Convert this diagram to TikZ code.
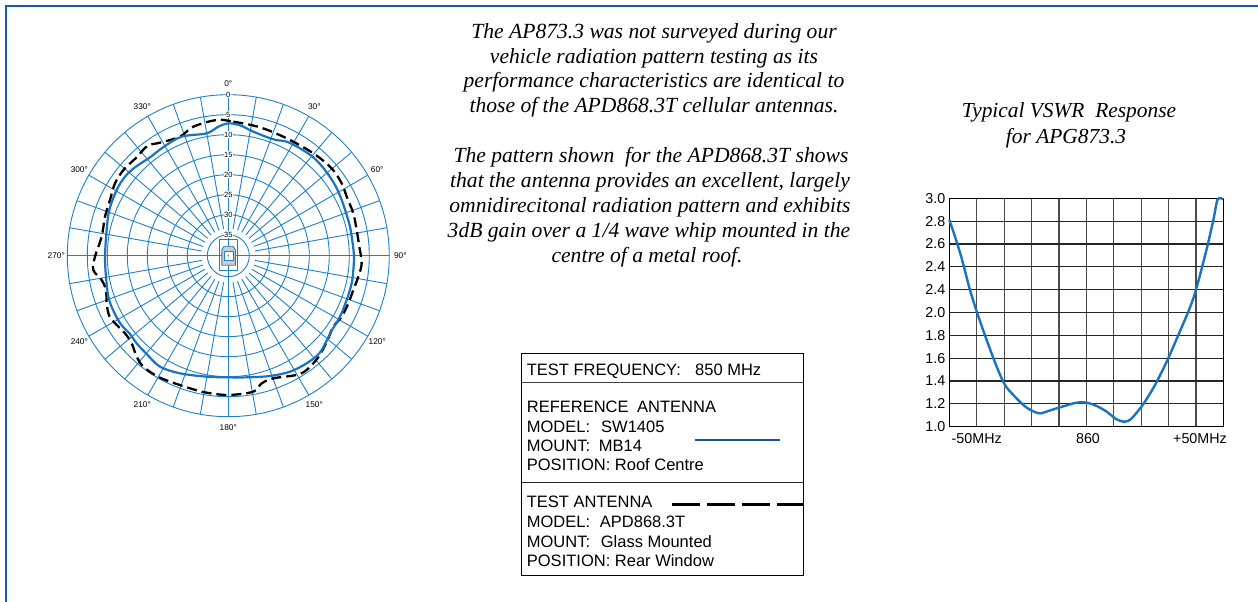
\documentclass[tikz,border=0pt]{standalone}
\usepackage{fontspec}
\setmainfont{Liberation Serif}
\setsansfont{Liberation Sans}
\definecolor{frameblue}{RGB}{22,92,172}
\definecolor{gridblue}{RGB}{30,130,200}
\definecolor{curveblue}{RGB}{25,115,190}
\definecolor{legblue}{RGB}{25,85,165}
\begin{document}
\begin{tikzpicture}[x=1pt,y=-1pt,
  pgrid/.style={gridblue, line width=0.9pt},
  plab/.style={font=\sffamily\fontsize{8.3}{9}\selectfont, inner sep=0.5pt},
  rlab/.style={font=\sffamily\fontsize{7.5}{8}\selectfont, fill=white, inner sep=0.6pt},
  vgrid/.style={black!70, line width=1.2pt},
  vlab/.style={font=\sffamily\fontsize{14.3}{16}\selectfont, inner sep=0pt},
  legtxt/.style={font=\sffamily\fontsize{16.5}{19}\selectfont, anchor=base west, inner sep=0pt},
  body/.style={font=\itshape\fontsize{21.6}{25}\selectfont, anchor=base, inner sep=0pt},
  head/.style={font=\itshape\fontsize{21.4}{25}\selectfont, anchor=base, inner sep=0pt},
  refcurve/.style={curveblue, line width=2.2pt, line join=round},
  testcurve/.style={black, line width=2.3pt, dash pattern=on 10pt off 5pt},
]
\useasboundingbox (0,0) rectangle (1258,602);
\fill[white] (0,0) rectangle (1258,602);
% frame
\draw[frameblue, line width=2.6pt] (6,602) -- (6,6) -- (1258,6);

% ---------- polar plot ----------
\begin{scope}[shift={(228.3,255.7)}]
  \foreach \k in {0,...,7}
    \draw[pgrid] (0,0) circle[radius={(161-20*\k)*1pt}];
  \foreach \a in {0,10,...,350}
    \draw[pgrid] (\a:27) -- (\a:161);
  \draw[pgrid] (-161,0) -- (161,0);
  \draw[pgrid] (0,-161) -- (0,161);
  % vehicle symbol
  \draw[gridblue, line width=1.1pt] (-9,-16.5) rectangle (9.5,14.5);
  \filldraw[fill=gray!40, draw=gridblue, line width=0.9pt]
     (-6.5,-6) -- (-4,-9.5) -- (4.5,-9.5) -- (7,-6) -- (7,9.5) -- (-6.5,9.5) -- cycle;
  \filldraw[fill=white, draw=gridblue, line width=0.6pt] (-4,-4) rectangle (4.5,5);
  \fill[gridblue] (0,0) circle[radius=0.9pt];
  % ring labels
  \foreach \k/\t in {0/0,1/5,2/10,3/15,4/20,5/25,6/30,7/35}
    \node[rlab] (rl\k) at (0,{-(161-20*\k)}) {\t};
  % angle labels
  \foreach \t in {0,30,...,330}
    \node[plab] (al\t) at ({\t-90}:172) {\t°};
\end{scope}

% pattern curves (coordinates in 1/3 px units, origin at (60,70))
\begin{scope}[shift={(60,70)}, x=0.33333pt, y=-0.33333pt]
  \draw[testcurve] plot[smooth cycle, tension=0.55] coordinates {
    (470,150) (520,155) (600,172) (680,205) (760,250) (815,295) (845,340)
    (862,385) (880,430) (890,480) (898,530) (905,580) (895,620) (880,660)
    (865,700) (845,740) (820,770) (805,805) (785,845) (760,880) (720,912)
    (640,925) (605,940) (580,965) (505,975) (440,968) (400,958) (330,935)
    (290,918) (250,890) (230,860) (215,820) (195,790) (170,765) (148,738)
    (140,700) (138,660) (125,630) (100,600) (105,560) (125,500) (135,440)
    (150,390) (165,340) (192,298) (230,262) (262,228) (300,218) (360,200)
    (400,170) };
  \draw[refcurve] plot[smooth cycle, tension=0.55] coordinates {
    (505,160) (540,166) (580,185) (640,208) (680,215) (720,235) (760,262)
    (795,300) (825,345) (842,382) (856,422) (870,470) (878,520) (882,560)
    (880,600) (875,640) (860,690) (840,740) (815,782) (800,812) (778,850)
    (740,880) (690,905) (630,918) (560,922) (505,922) (440,920) (360,910)
    (300,890) (260,852) (230,820) (210,792) (182,762) (160,722) (145,680)
    (138,620) (135,560) (140,480) (148,420) (170,360) (195,320) (225,292)
    (270,262) (312,230) (365,200) (440,190) (475,170) };
\end{scope}

% ---------- descriptive text ----------
\node[body] (t1) at (654,38.5) {The AP873.3 was not surveyed during our};
\node[body] (t2) at (654,63.2) {vehicle radiation pattern testing as its};
\node[body] (t3) at (654,87.9) {performance characteristics are identical to};
\node[body] (t4) at (654,112.6) {those of the APD868.3T cellular antennas.};
\node[body] (p1) at (651,162) {The pattern shown\ \ for the APD868.3T shows};
\node[body] (p2) at (650,187) {that the antenna provides an excellent, largely};
\node[body] (p3) at (650,212) {omnidirecitonal radiation pattern and exhibits};
\node[body] (p4) at (649,237) {3dB gain over a 1/4 wave whip mounted in the};
\node[body] (p5) at (647,262) {centre of a metal roof.};

\node[head] (h1) at (1069,117) {Typical VSWR\ \ Response};
\node[head] (h2) at (1066,143) {for APG873.3};

% ---------- legend ----------
\draw[black, line width=1pt] (521.7,353.3) rectangle (803.3,575);
\draw[black!75, line width=1pt] (521.7,382.7) -- (803.3,382.7);
\draw[black!85, line width=1pt] (521.7,482.7) -- (803.3,482.7);
\node[legtxt] (l1) at (526.7,375) {\makebox[168.3pt][l]{TEST FREQUENCY:}850 MHz};
\node[legtxt] (l2) at (526.7,412.6) {\makebox[110.3pt][l]{REFERENCE}ANTENNA};
\node[legtxt] (l3) at (526.7,432) {\makebox[74.3pt][l]{MODEL:}SW1405};
\node[legtxt] (l4) at (526.7,451) {\makebox[72pt][l]{MOUNT:}MB14};
\node[legtxt] (l5) at (526.7,470) {POSITION: Roof Centre};
\node[legtxt] (l6) at (526.7,507.6) {TEST ANTENNA};
\node[legtxt] (l7) at (526.7,527.6) {\makebox[73pt][l]{MODEL:}APD868.3T};
\node[legtxt] (l8) at (526.7,547.6) {\makebox[74pt][l]{MOUNT:}Glass Mounted};
\node[legtxt] (l9) at (526.7,566) {POSITION: Rear Window};
\coordinate (ra) at (695,440);
\coordinate (rb) at (780,440);
\draw[legblue, line width=2.3pt] (ra) -- (rb);
\coordinate (ta) at (671.7,504.3);
\coordinate (tb) at (803,504.3);
\draw[black, line width=2.5pt, dash pattern=on 28pt off 7pt] (ta) -- (tb);

% ---------- VSWR chart ----------
\foreach \i in {1,...,9}
  \draw[vgrid] ({949.3+27.4*\i},198.3) -- ({949.3+27.4*\i},426.7);
\foreach \i in {1,...,9}
  \draw[vgrid, black!85] (949.3,{198.3+22.84*\i}) -- (1223.3,{198.3+22.84*\i});
\draw[black, line width=1.3pt] (949.3,198.3) rectangle (1223.3,426.7);
\foreach \v [count=\i from 0] in {3.0,2.8,2.6,2.4,2.4,2.0,1.8,1.6,1.4,1.2,1.0}
  \node[vlab, anchor=east] (vt\i) at (945.5,{198.3+22.84*\i}) {\v};
\node[vlab, anchor=base] (x1) at (976.7,443) {-50MHz};
\node[vlab, anchor=base] (x2) at (1088,443) {860};
\node[vlab, anchor=base] (x3) at (1200,443) {+50MHz};
\begin{scope}[shift={(900,190)}, x=0.33333pt, y=-0.33333pt]
  \draw[curveblue, line width=2.4pt, line join=round] plot[smooth, tension=0.5] coordinates {
    (148,90) (165,140) (185,205) (210,300) (232,370) (260,450) (290,530)
    (315,585) (340,615) (370,645) (395,662) (420,670) (445,663) (470,655)
    (500,646) (530,638) (560,638) (590,648) (620,665) (650,688) (675,695)
    (695,685) (730,642) (765,585) (800,515) (835,435) (880,325) (918,185)
    (940,90) (953,28) (970,28) };
\end{scope}
\end{tikzpicture}
\end{document}
